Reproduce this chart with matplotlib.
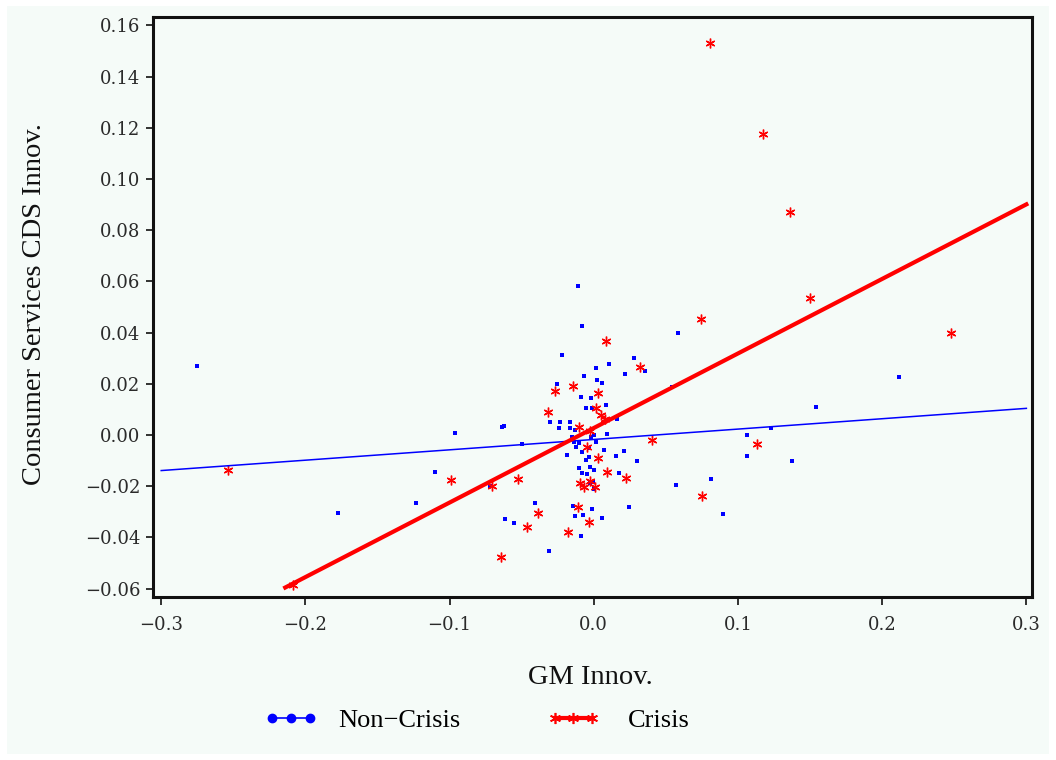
import matplotlib
matplotlib.use("Agg")
import matplotlib.pyplot as plt
from matplotlib.lines import Line2D
from matplotlib.patches import Rectangle

# ---- data ----
noncrisis_x = [-0.0108, -0.0080, 0.0586, -0.0218, 0.0279, 0.0108, 0.0015, 0.0216, 0.0353, -0.0066,
               0.0024, 0.0055, -0.0253, -0.0091, -0.0019, -0.0056, -0.0012, 0.0083, 0.0161, -0.0304,
               -0.0237, -0.0167, -0.0130, -0.0239, -0.0167, -0.0637, -0.0625, -0.0963, -0.0149, -0.0139,
               -0.0105, -0.0121, -0.0084, -0.0019, -0.0001, 0.0017, 0.0089, -0.0033, -0.0188, 0.0071,
               0.0209, 0.0154, -0.0035, -0.0054, 0.0297, -0.0101, -0.0026, -0.0001, -0.0080, -0.0045,
               0.0173, -0.0008, 0.0003, -0.0024, 0.0570, -0.0408, -0.0142, -0.0010, 0.0244, -0.0128,
               -0.0073, 0.0057, -0.0616, -0.0553, -0.0091, -0.0309, -0.0720, -0.0500, 0.0544, -0.2752,
               -0.1772, -0.1235, -0.1099, 0.2119, 0.1541, 0.1227, 0.1065, 0.1065, 0.1377, 0.0813, 0.0896]
noncrisis_y = [0.0583, 0.0427, 0.0400, 0.0311, 0.0302, 0.0279, 0.0260, 0.0237, 0.0251, 0.0232,
               0.0215, 0.0204, 0.0199, 0.0150, 0.0145, 0.0107, 0.0104, 0.0116, 0.0064, 0.0052,
               0.0052, 0.0050, 0.0020, 0.0027, 0.0027, 0.0030, 0.0036, 0.0009, -0.0008, -0.0026,
               -0.0031, -0.0046, -0.0066, -0.0007, 0.0000, -0.0027, 0.0005, -0.0052, -0.0077, -0.0060,
               -0.0061, -0.0082, -0.0087, -0.0099, -0.0102, -0.0130, -0.0124, -0.0135, -0.0147, -0.0152,
               -0.0147, -0.0182, -0.0211, -0.0189, -0.0195, -0.0264, -0.0279, -0.0290, -0.0282, -0.0315,
               -0.0311, -0.0325, -0.0329, -0.0345, -0.0395, -0.0452, -0.0199, -0.0036, 0.0186, 0.0270,
               -0.0306, -0.0264, -0.0143, 0.0227, 0.0111, 0.0027, 0.0000, -0.0081, -0.0103, -0.0172, -0.0309]

crisis_x = [0.0085, 0.0323, 0.0740, -0.0271, -0.0142, 0.0031, -0.0320, 0.0013, 0.0052, 0.0075,
            -0.0101, -0.0028, -0.0049, 0.0406, 0.0029, -0.0990, -0.0704, -0.0526, 0.0089, 0.0221,
            -0.0096, -0.0026, -0.0068, 0.0010, 0.0750, -0.0112, -0.0385, -0.0035, -0.0463, -0.0177,
            -0.0644, -0.2535, -0.2084, 0.0808, 0.1171, 0.1363, 0.1499, 0.2475, 0.1134]
crisis_y = [0.0366, 0.0267, 0.0452, 0.0171, 0.0190, 0.0163, 0.0091, 0.0107, 0.0079, 0.0063,
            0.0032, 0.0017, -0.0046, -0.0020, -0.0089, -0.0175, -0.0199, -0.0172, -0.0146, -0.0169,
            -0.0186, -0.0180, -0.0202, -0.0202, -0.0238, -0.0281, -0.0306, -0.0339, -0.0361, -0.0378,
            -0.0475, -0.0137, -0.0586, 0.1532, 0.1177, 0.0871, 0.0536, 0.0397, -0.0035]

noncrisis_fit_x = [-0.300, 0.300]
noncrisis_fit_y = [-0.0139, 0.0104]
crisis_fit_x = [-0.214, 0.300]
crisis_fit_y = [-0.0596, 0.0901]

x_ticks = [-0.3, -0.2, -0.1, 0.0, 0.1, 0.2, 0.3]
y_ticks = [-0.06, -0.04, -0.02, 0.00, 0.02, 0.04, 0.06, 0.08, 0.10, 0.12, 0.14, 0.16]

# ---- figure ----
bg = '#F5FBF8'
fig = plt.figure(figsize=(10.56, 7.6), dpi=100, facecolor='white')
fig.patches.append(Rectangle((7/1056, 6/760), 1 - 14/1056, 1 - 12/760,
                             transform=fig.transFigure, facecolor=bg, edgecolor='none', zorder=-10))
ax = fig.add_axes([153/1056, 1 - 597/760, (1032 - 153)/1056, (597 - 17)/760])
ax.set_facecolor(bg)

asterisk = (6, 2, 0)
ax.plot(noncrisis_x, noncrisis_y, linestyle='none', marker='s', markersize=2.8,
        color='#0000FF', markeredgewidth=0, zorder=2)
ax.plot(crisis_x, crisis_y, linestyle='none', marker=asterisk, markersize=7,
        color='#FF0000', markeredgewidth=1.0, zorder=3)
ax.plot(noncrisis_fit_x, noncrisis_fit_y, color='#0000FF', linewidth=1.1, zorder=4)
ax.plot(crisis_fit_x, crisis_fit_y, color='#FF0000', linewidth=3.0, zorder=5)

ax.set_xlim(-0.3057, 0.3039)
ax.set_ylim(-0.0633, 0.1633)
ax.set_xticks(x_ticks)
ax.set_xticklabels([f"{v:.1f}".replace('-', '\u2212') for v in x_ticks])
ax.set_yticks(y_ticks)
ax.set_yticklabels([f"{v:.2f}".replace('-', '\u2212') for v in y_ticks])

for lab in ax.get_xticklabels() + ax.get_yticklabels():
    lab.set_fontfamily('DejaVu Serif')
    lab.set_fontsize(13)
    lab.set_color('#2a2a2a')
ax.tick_params(axis='both', direction='out', length=5, width=1.3, color='#222222', pad=4)
ax.tick_params(axis='x', length=6, pad=8)
for s in ax.spines.values():
    s.set_linewidth(2.2)
    s.set_color('#111111')

label_font = dict(family='Liberation Serif', size=20.5, color='#111111')
fig.text(590/1056, 1 - 677/760, 'GM Innov.', ha='center', va='center', **label_font)
fig.text(35/1056, 1 - 304/760, 'Consumer Services CDS Innov.', ha='center', va='center',
         rotation=90, **label_font)

legend_prop = dict(family='Liberation Serif', size=19)
h_blue = Line2D([], [], color='#0000FF', linewidth=1.2, marker='o', markersize=6)
h_red = Line2D([], [], color='#FF0000', linewidth=3.0, marker=asterisk, markersize=8, markeredgewidth=1.2)
leg1 = fig.legend([h_blue], ['Non\u2212Crisis'], loc='center left',
                  bbox_to_anchor=(264/1056, 1 - 720/760), frameon=False, numpoints=3,
                  borderpad=0, borderaxespad=0, handlelength=2.05, handletextpad=0.76,
                  prop=legend_prop)
leg2 = fig.legend([h_red], ['Crisis'], loc='center left',
                  bbox_to_anchor=(547/1056, 1 - 720/760), frameon=False, numpoints=3,
                  borderpad=0, borderaxespad=0, handlelength=2.0, handletextpad=1.06,
                  prop=legend_prop)

fig.savefig('out.png', dpi=100, facecolor='white')
